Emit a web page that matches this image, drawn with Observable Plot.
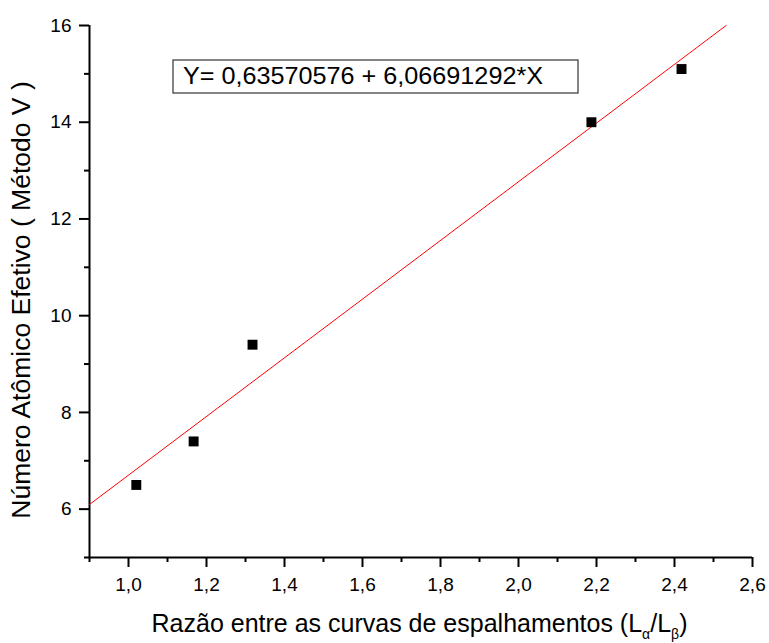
<!DOCTYPE html>
<html>
<head>
<meta charset="utf-8">
<script src="https://cdn.jsdelivr.net/npm/d3@7"></script>
<script src="https://cdn.jsdelivr.net/npm/@observablehq/plot@0.6"></script>
<style>
  html, body { margin: 0; padding: 0; background: #fff; }
  svg { display: block; }
</style>
</head>
<body>
<div id="chart"></div>
<script>
// ---- data ----
const ratioX = [1.02, 1.167, 1.318, 2.187, 2.418];
const zEff = [6.5, 7.4, 9.4, 14.0, 15.1];
const fitIntercept = 0.63570576;
const fitSlope = 6.06691292;
const xMajorTicks = [1.0, 1.2, 1.4, 1.6, 1.8, 2.0, 2.2, 2.4, 2.6];
const xMinorTicks = [0.9, 1.1, 1.3, 1.5, 1.7, 1.9, 2.1, 2.3, 2.5];
const yMajorTicks = [6, 8, 10, 12, 14, 16];
const yMinorTicks = [5, 7, 9, 11, 13, 15];
const xDomain = [0.9, 2.6];
const yDomain = [5, 16];
const equationText = "Y= 0,63570576 + 6,06691292*X";
const yLabel = "Número Atômico Efetivo ( Método V )";
const xLabelMain = "Razão entre as curvas de espalhamentos (L";
const xLabelSubA = "α";
const xLabelSubB = "β";

const points = ratioX.map((x, i) => ({x, y: zEff[i]}));
// fitted line from left domain edge to where it reaches the top of the y domain
const fitEndX = (yDomain[1] - fitIntercept) / fitSlope;
const fitLine = [xDomain[0], fitEndX].map(x => ({x, y: fitIntercept + fitSlope * x}));

const fmt = d => d.toFixed(1).replace(".", ",");
const font = "'Liberation Sans', Arial, Helvetica, sans-serif";

const plot = Plot.plot({
  width: 769,
  height: 643,
  marginLeft: 89,
  marginRight: 17,
  marginTop: 25,
  marginBottom: 86,
  x: {domain: xDomain},
  y: {domain: yDomain},
  style: {fontFamily: font, fontSize: "19px", color: "#000", background: "#fff"},
  marks: [
    Plot.axisX(xMajorTicks, {tickSize: 10, tickPadding: 10, strokeWidth: 2, tickFormat: fmt, label: null, fontSize: 19}),
    Plot.axisX(xMinorTicks, {tickSize: 5, strokeWidth: 2, tickFormat: () => "", label: null}),
    Plot.axisY(yMajorTicks, {tickSize: 10, tickPadding: 8, strokeWidth: 2, tickFormat: d => String(d), label: null, fontSize: 19}),
    Plot.axisY(yMinorTicks, {tickSize: 5, strokeWidth: 2, tickFormat: () => "", label: null}),
    Plot.ruleY([yDomain[0]], {stroke: "#000", strokeWidth: 2}),
    Plot.ruleX([xDomain[0]], {stroke: "#000", strokeWidth: 2}),
    Plot.line(fitLine, {x: "x", y: "y", stroke: "#ff0000", strokeWidth: 1}),
    Plot.dot(points, {x: "x", y: "y", symbol: "square", r: 5.6, fill: "#000", stroke: "none"})
  ]
});

document.getElementById("chart").appendChild(plot);

const svg = d3.select(plot);
const sx = plot.scale("x");
const sy = plot.scale("y");

function styleText(sel, size, anchor) {
  return sel.style("font-family", font)
    .style("font-size", size + "px")
    .style("text-anchor", anchor)
    .style("fill", "#000");
}

// equation box
const eq = svg.append("g");
eq.append("rect")
  .attr("x", 173)
  .attr("y", 60)
  .attr("width", 405)
  .attr("height", 33)
  .attr("fill", "#fff")
  .attr("stroke", "#333")
  .attr("stroke-width", 1.2);
styleText(eq.append("text"), 24, "start")
  .attr("x", 183)
  .attr("y", 84)
  .attr("textLength", 360)
  .attr("lengthAdjust", "spacingAndGlyphs")
  .text(equationText);

// x axis label with subscripts
const xl = styleText(svg.append("text"), 25, "middle")
  .attr("x", (sx.range[0] + sx.range[1]) / 2 - 1)
  .attr("y", 632);
xl.append("tspan").text(xLabelMain);
xl.append("tspan").style("font-size", "14px").attr("dy", 7).text(xLabelSubA);
xl.append("tspan").attr("dy", -7).text("/L");
xl.append("tspan").style("font-size", "14px").attr("dy", 7).text(xLabelSubB);
xl.append("tspan").attr("dy", -7).text(")");

// y axis label
styleText(svg.append("text"), 26.5, "middle")
  .attr("transform", `translate(30, 300) rotate(-90)`)
  .text(yLabel);
</script>
</body>
</html>
